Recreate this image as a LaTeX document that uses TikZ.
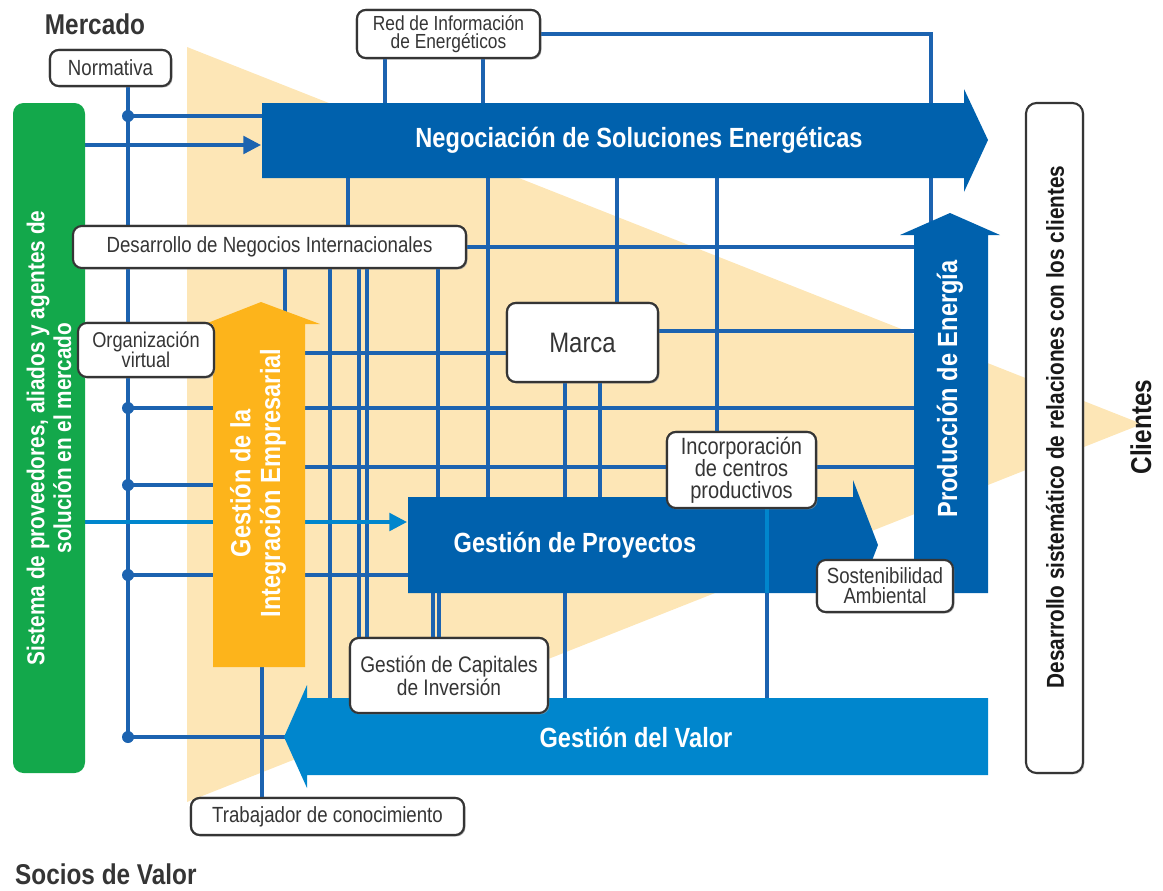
\documentclass[tikz,border=0pt]{standalone}
\usepackage{fontspec}
\setmainfont{Liberation Sans}
\newfontfamily\cf{Liberation Sans}[FakeStretch=0.85]
\usetikzlibrary{arrows.meta,shadows}
\definecolor{peach}{HTML}{FDE6B6}
\definecolor{navy}{HTML}{0061AD}
\definecolor{sky}{HTML}{0086CD}
\definecolor{amber}{HTML}{FDB41B}
\definecolor{leaf}{HTML}{13A84B}
\definecolor{wireblue}{HTML}{1C63B0}
\definecolor{ink}{HTML}{353535}

\begin{document}
\begin{tikzpicture}[x=0.02cm,y=-0.02cm,
  wire/.style={draw=wireblue,line width=1.9pt},
  feed/.style={draw=sky,line width=1.9pt,-{Triangle[length=10pt,width=10pt]}},
  box/.style 2 args={draw=ink,line width=1.2pt,fill=white,rounded corners=5pt,
    minimum width=#1*0.02cm,minimum height=#2*0.02cm,inner sep=0pt,align=center,
    text=ink,font=\cf\fontsize{12.5}{13}\selectfont,
    drop shadow={shadow xshift=0.8pt,shadow yshift=-0.8pt,fill=black!35}},
  title/.style={text=white,align=center,font=\cf\bfseries\fontsize{15.8}{17}\selectfont},
  heading/.style={text=ink,font=\cf\bfseries\fontsize{16.3}{18}\selectfont},
  joint/.style={circle,fill=wireblue,inner sep=0pt,minimum size=0.24cm}
]
\useasboundingbox (0,0) rectangle (1163,890);

% market wedge
\fill[peach] (187,47) -- (1142,424) -- (187,802) -- cycle;

% boxes, placed first so that the grid can use their anchors
\path
  (110.5,68)  node[box={121}{36}] (norm) {Normativa}
  (448.5,34)  node[box={183}{48},font=\cf\fontsize{11.6}{10.5}\selectfont] (red) {Red de Información\\de Energéticos}
  (269.5,247) node[box={393}{42}] (desint) {Desarrollo de Negocios Internacionales}
  (146,350)   node[box={136}{54},font=\cf\fontsize{12.2}{11.5}\selectfont] (orgv) {Organización\\virtual}
  (582.5,342.5) node[box={151}{79},font=\cf\fontsize{16}{18}\selectfont] (marca) {Marca}
  (741.5,470) node[box={149}{76},font=\cf\fontsize{13.4}{12.5}\selectfont] (incorp) {Incorporación\\de centros\\productivos}
  (885,586)   node[box={136}{52},font=\cf\fontsize{12.5}{11.5}\selectfont] (sost) {Sostenibilidad\\Ambiental}
  (449,675.5) node[box={198}{75},font=\cf\fontsize{12.8}{13}\selectfont] (capit) {Gestión de Capitales\\de Inversión}
  (327.5,816.5) node[box={273}{37}] (trab) {Trabajador de conocimiento};

% connector grid
\draw[wire] (128,0 |- norm.south) -- (128,737);
\draw[wire] (128,116) -- (262,116);
\draw[wire] (385,0 |- red.south) -- (385,103);
\draw[wire] (483,0 |- red.south) -- (483,103);
\draw[wire] (red.east) -- (931,34) -- (931,232);
\draw[wire] (348,178) -- (348,0 |- desint.north);
\draw[wire] (488,178) -- (488,497);
\draw[wire] (617,178) -- (617,0 |- marca.north);
\draw[wire] (717,178) -- (717,0 |- incorp.north);
\draw[wire] (desint.east) -- (914,247);
\draw[wire] (285,0 |- desint.south) -- (285,320);
\draw[wire] (330,0 |- desint.south) -- (330,698);
\draw[wire] (359,0 |- desint.south) -- (359,0 |- capit.north);
\draw[wire] (367,0 |- desint.south) -- (367,0 |- capit.north);
\draw[wire] (438,0 |- desint.south) -- (438,497);
\draw[wire] (433,593) -- (433,0 |- capit.north);
\draw[wire] (439,593) -- (439,0 |- capit.north);
\draw[wire] (305,353) -- (0,353 -| marca.west);
\draw[wire] (0,331 -| marca.east) -- (914,331);
\draw[wire] (128,408) -- (914,408);
\draw[wire] (305,467) -- (0,467 -| incorp.west);
\draw[wire] (0,467 -| incorp.east) -- (914,467);
\draw[wire] (128,485) -- (213,485);
\draw[wire] (128,575) -- (408,575);
\draw[wire] (128,737) -- (285,737);
\draw[wire] (262,667) -- (262,0 |- trab.north);
\draw[wire] (565,0 |- marca.south) -- (565,497);
\draw[wire] (600,0 |- marca.south) -- (600,497);
\draw[wire] (565,593) -- (565,698);
\draw[wire] (767,0 |- incorp.south) -- (767,698);
\draw[feed] (85,522) -- (407,522);
\draw[wire,-{Triangle[length=10pt,width=10pt]}] (85,145) -- (261,145);

\foreach \yy in {116,408,485,575,737}
  \node[joint] at (128,\yy) {};

% process arrows
\fill[navy] (262,103) -- (964,103) -- (964,89) -- (988,140) -- (964,192) -- (964,178) -- (262,178) -- cycle;
\fill[navy] (914,593) -- (914,235) -- (900,235) -- (950,213) -- (1000,235) -- (988,235) -- (988,593) -- cycle;
\fill[navy] (408,497) -- (853,497) -- (853,480) -- (878,545) -- (853,610) -- (853,593) -- (408,593) -- cycle;
\fill[sky] (988,698) -- (307,698) -- (307,685) -- (284,737) -- (307,788) -- (307,775) -- (988,775) -- cycle;
\fill[amber] (213,667) -- (213,324) -- (205,324) -- (261,302) -- (320,324) -- (305,324) -- (305,667) -- cycle;
\draw[draw=sky,line width=1.9pt] (767,508) -- (767,593);

\node[title] (neg) at (639,140) {Negociación de Soluciones Energéticas};
\node[title,rotate=90] (prod) at (950,389) {Producción de Energía};
\node[title] (proy) at (575,545) {Gestión de Proyectos};
\node[title] (valor) at (636,737) {Gestión del Valor};
\node[title,rotate=90] (integ) at (258,483) {Gestión de la\\Integración Empresarial};

% side bands
\node[rotate=90,fill=leaf,rounded corners=6pt,minimum width=670*0.02cm,minimum height=72*0.02cm,
  inner sep=0pt,align=center,text=white,font=\cf\bfseries\fontsize{13.9}{15.3}\selectfont] (prov) at (49,438)
  {Sistema de proveedores, aliados y agentes de\\solución en el mercado};
\node[rotate=90,draw=ink,line width=1.2pt,fill=white,rounded corners=6pt,minimum width=670*0.02cm,
  minimum height=57*0.02cm,inner sep=0pt,
  drop shadow={shadow xshift=0.8pt,shadow yshift=-0.8pt,fill=black!35}] (rel) at (1054.5,438) {};
\node[rotate=90,text=black!90,font=\cf\bfseries\fontsize{13.9}{15}\selectfont] (reltext) at (1055,427)
  {Desarrollo sistemático de relaciones con los clientes};

% boxes on top of the grid
\path
  (110.5,68)  node[box={121}{36}] {Normativa}
  (448.5,34)  node[box={183}{48},font=\cf\fontsize{11.6}{10.5}\selectfont] {Red de Información\\de Energéticos}
  (269.5,247) node[box={393}{42}] {Desarrollo de Negocios Internacionales}
  (146,350)   node[box={136}{54},font=\cf\fontsize{12.2}{11.5}\selectfont] {Organización\\virtual}
  (582.5,342.5) node[box={151}{79},font=\cf\fontsize{16}{18}\selectfont] {Marca}
  (741.5,470) node[box={149}{76},font=\cf\fontsize{13.4}{12.5}\selectfont] {Incorporación\\de centros\\productivos}
  (885,586)   node[box={136}{52},font=\cf\fontsize{12.5}{11.5}\selectfont] {Sostenibilidad\\Ambiental}
  (449,675.5) node[box={198}{75},font=\cf\fontsize{12.8}{13}\selectfont] {Gestión de Capitales\\de Inversión}
  (327.5,816.5) node[box={273}{37}] {Trabajador de conocimiento};

% headings
\node[heading] (mercado) at (95,24) {Mercado};
\node[heading,anchor=west] (socios) at (9,874) {Socios de Valor};
\node[heading,rotate=90,text=black!90] (clientes) at (1141,427) {Clientes};
\end{tikzpicture}
\end{document}
